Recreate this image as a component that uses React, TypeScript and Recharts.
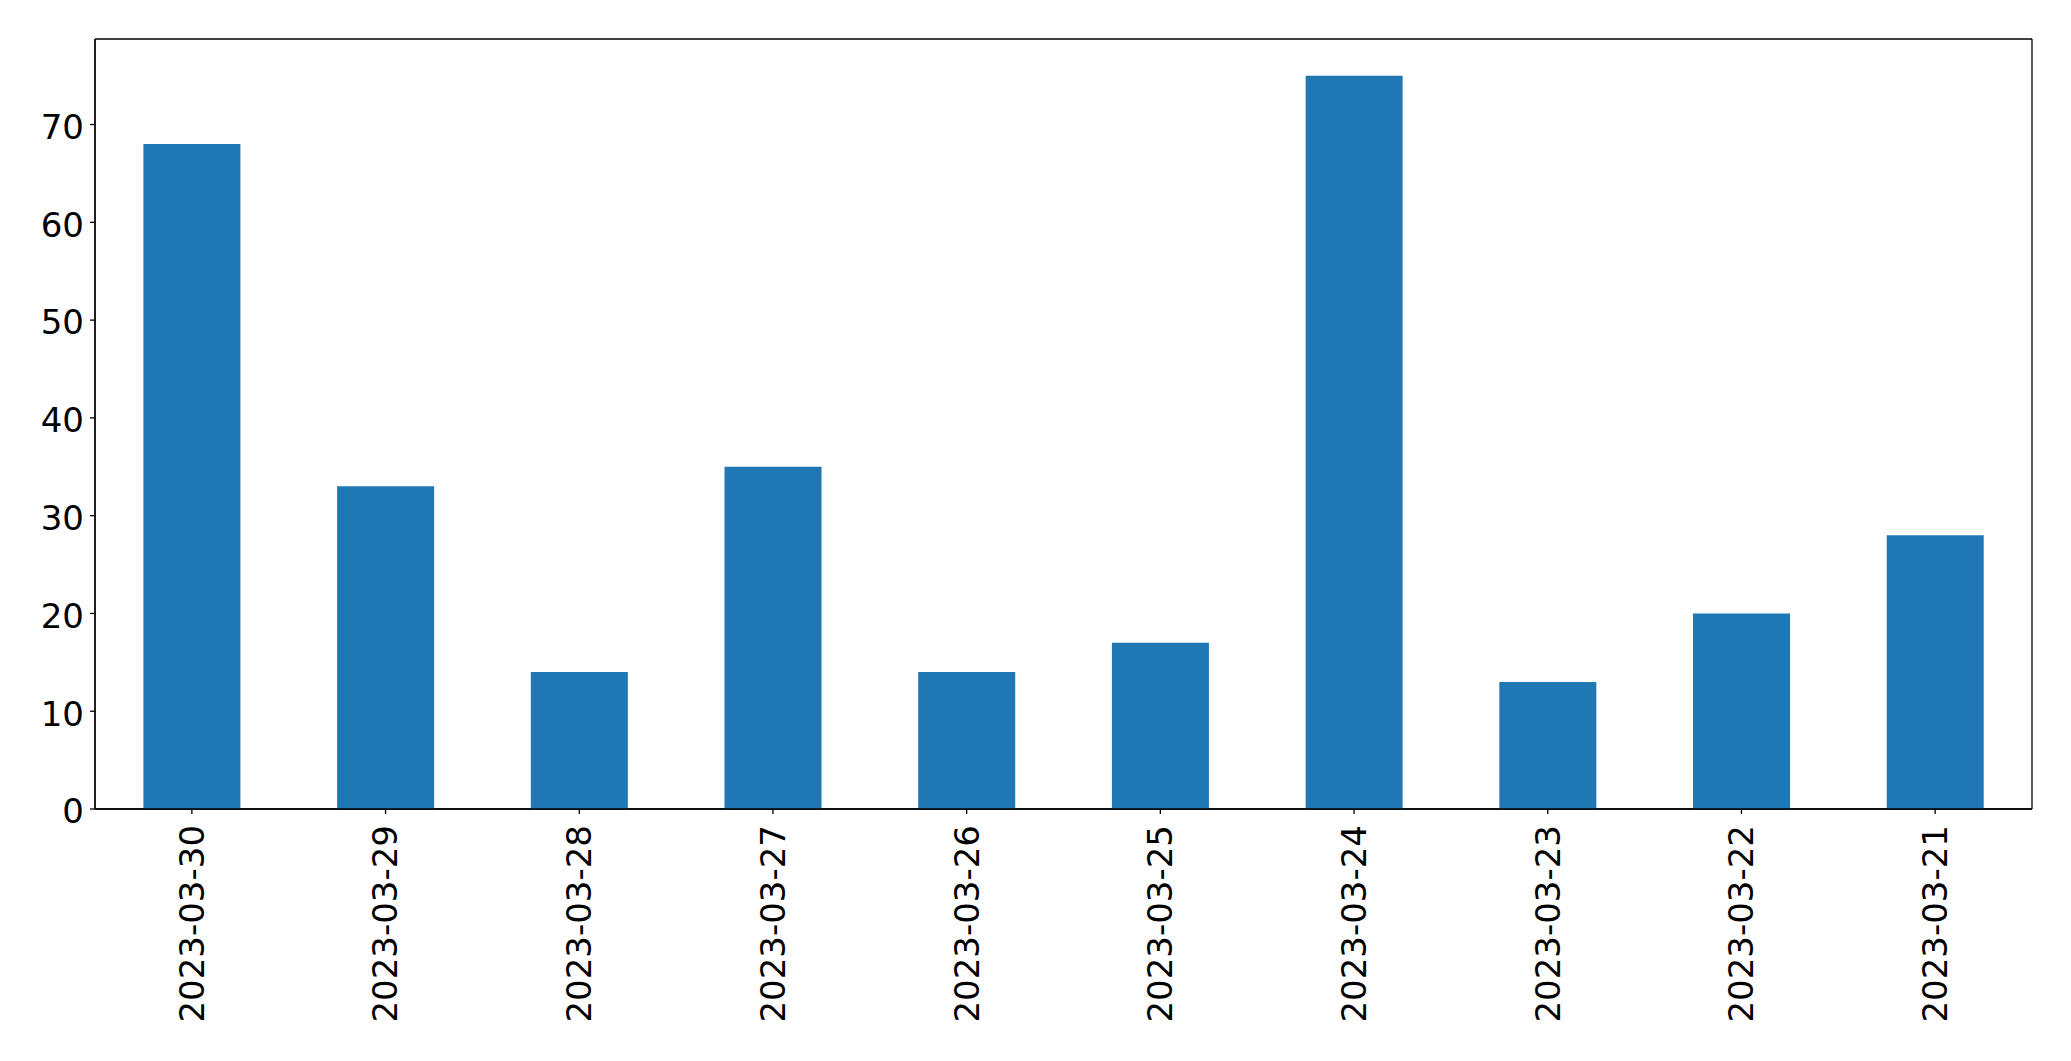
import React from "react";
import { BarChart, Bar, XAxis, YAxis, CartesianGrid } from "recharts";

// dates in the order they appear on the x axis
const dates = [
  "2023-03-30",
  "2023-03-29",
  "2023-03-28",
  "2023-03-27",
  "2023-03-26",
  "2023-03-25",
  "2023-03-24",
  "2023-03-23",
  "2023-03-22",
  "2023-03-21",
];
const counts = [68, 33, 14, 35, 14, 17, 75, 13, 20, 28];
const yTicks = [0, 10, 20, 30, 40, 50, 60, 70];

const FONT = "DejaVu Sans";

function DateTick(props: any) {
  const { x, y, payload } = props;
  return (
    <text
      x={x}
      y={y}
      dy="0.35em"
      transform={`rotate(-90, ${x}, ${y})`}
      textAnchor="end"
      fontFamily={FONT}
      fontSize={34}
      fill="#000"
    >
      {payload.value}
    </text>
  );
}

function ValueTick(props: any) {
  const { x, y, payload } = props;
  return (
    <text
      x={x}
      y={y}
      dy="0.42em"
      textAnchor="end"
      fontFamily={FONT}
      fontSize={34}
      fill="#000"
    >
      {payload.value}
    </text>
  );
}

export default function App(): React.JSX.Element {
  const data = dates.map((d, i) => ({ date: d, value: counts[i] }));

  // frame round the plot area, like matplotlib's spines
  const frameX = ({ offset }: any) => [offset.left, offset.left + offset.width];
  const frameY = ({ offset }: any) => [offset.top, offset.top + offset.height];

  return (
    <div style={{ position: "absolute", left: 0, top: 0, background: "#fff" }}>
      <BarChart
        width={2071}
        height={1061}
        data={data}
        margin={{ top: 39, right: 39, left: 0, bottom: 0 }}
        barCategoryGap="25%"
      >
        <CartesianGrid
          stroke="#000"
          strokeWidth={1.3}
          verticalCoordinatesGenerator={frameX}
          horizontalCoordinatesGenerator={frameY}
        />
        <XAxis
          dataKey="date"
          height={252}
          interval={0}
          tick={<DateTick />}
          tickSize={5}
          tickMargin={11}
          axisLine={{ stroke: "#000", strokeWidth: 1.3 }}
          tickLine={{ stroke: "#000", strokeWidth: 1.3 }}
        />
        <YAxis
          width={95}
          domain={[0, 78.75]}
          ticks={yTicks}
          interval={0}
          tickSize={5}
          tickMargin={6}
          tick={<ValueTick />}
          axisLine={{ stroke: "#000", strokeWidth: 1.3 }}
          tickLine={{ stroke: "#000", strokeWidth: 1.3 }}
        />
        <Bar dataKey="value" fill="#1f77b4" isAnimationActive={false} />
      </BarChart>
    </div>
  );
}
